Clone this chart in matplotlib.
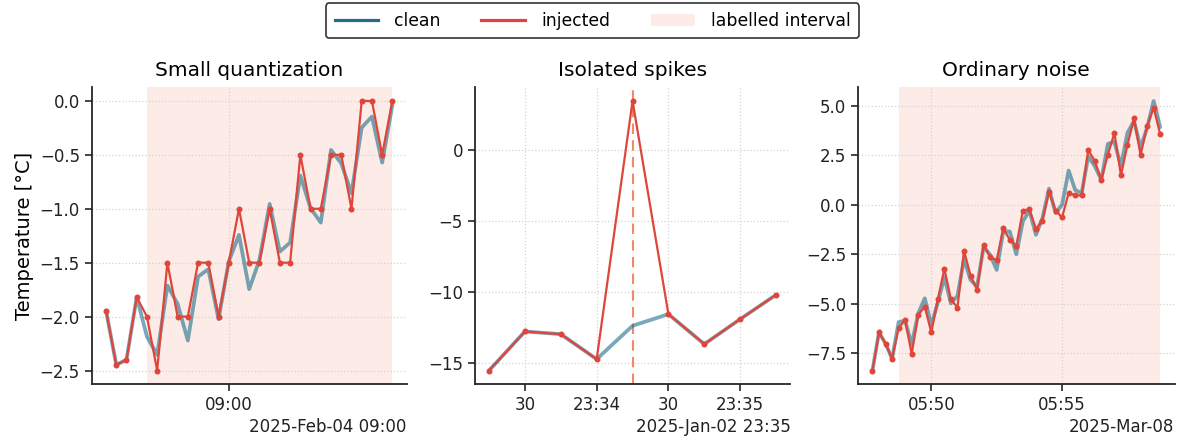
import numpy as np
import matplotlib
matplotlib.use("Agg")
import matplotlib.pyplot as plt
import matplotlib.dates as mdates
from matplotlib.ticker import MultipleLocator
from matplotlib.lines import Line2D
from matplotlib.patches import Patch

# ---------------- data ----------------
titles = ["Small quantization", "Isolated spikes", "Ordinary noise"]

left_start, left_step = "2025-02-04T08:48:00", 60          # seconds
left_clean = [-1.944, -2.447, -2.40, -1.82, -2.185, -2.355, -1.712, -1.882,
              -2.222, -1.629, -1.561, -2.024, -1.49, -1.242, -1.746, -1.474,
              -0.955, -1.397, -1.313, -0.692, -0.995, -1.128, -0.454, -0.578,
              -0.856, -0.247, -0.145, -0.572, -0.037]
left_injected = [-1.944, -2.447, -2.40, -1.82, -2.0, -2.5, -1.5, -2.0,
                 -2.0, -1.5, -1.5, -2.0, -1.5, -1.0, -1.5, -1.5,
                 -1.0, -1.5, -1.5, -0.5, -1.0, -1.0, -0.5, -0.5,
                 -1.0, 0.0, 0.0, -0.5, 0.0]
left_interval = (4, 28)
left_ytick_step = 0.5

mid_start, mid_step = "2025-01-02T23:33:15", 15
mid_clean = [-15.52, -12.77, -12.96, -14.72, -12.37, -11.55, -13.66, -11.90, -10.19]
mid_injected = [-15.52, -12.77, -12.96, -14.72, 3.47, -11.55, -13.66, -11.90, -10.19]
mid_spike = 4
mid_ytick_step = 5

right_start, right_step = "2025-03-08T05:47:45", 15
right_clean = [-8.36, -6.44, -7.0, -7.77, -5.92, -5.85, -7.05, -5.48, -4.72,
               -6.07, -4.92, -3.66, -4.98, -4.6, -2.75, -3.79, -4.13, -2.11,
               -2.53, -3.29, -1.35, -1.35, -2.50, -0.84, -0.30, -1.52, -0.67,
               0.81, -0.42, 0.0, 1.72, 0.74, 0.59, 2.45, 1.94, 1.26, 3.07,
               3.17, 1.94, 3.63, 4.22, 2.87, 3.88, 5.23, 3.91]
right_injected = [-8.36, -6.44, -7.0, -7.77, -6.23, -5.81, -7.53, -5.56, -5.14,
                  -6.44, -4.77, -3.23, -4.77, -5.19, -2.32, -3.57, -4.30, -2.03,
                  -2.65, -2.79, -1.20, -1.77, -2.08, -0.30, -0.23, -1.22, -0.80,
                  0.65, -0.30, -0.64, 0.59, 0.47, 0.47, 2.76, 2.20, 1.26, 2.53,
                  3.61, 1.48, 3.02, 4.35, 2.50, 3.96, 4.89, 3.55]
right_interval = (4, 44)
right_ytick_step = 2.5

legend_labels = ["clean", "injected", "labelled interval"]
ylabel = "Temperature [°C]"

# ---------------- style ----------------
plt.rcParams['font.family'] = ['DejaVu Sans']
C_CLEAN = "#1f6f8b"
C_INJ = "#e0453a"
C_SPAN = "#e8603c"
C_VLINE = "#f08a6a"
SPINE = "#262626"

def times(start, step, n):
    return np.datetime64(start) + np.arange(n) * np.timedelta64(step, "s")

fig = plt.figure(figsize=(11.85, 4.41), dpi=100)
bottom, height = 0.1293, 0.6723
positions = [(0.0774, bottom, 0.2658, height),
             (0.4006, bottom, 0.2664, height),
             (0.7241, bottom, 0.2671, height)]
axes = [fig.add_axes(p) for p in positions]

panels = [
    (left_start, left_step, left_clean, left_injected, left_interval, None,
     mdates.HourLocator(), left_ytick_step),
    (mid_start, mid_step, mid_clean, mid_injected, None, mid_spike,
     mdates.SecondLocator(bysecond=[0, 30]), mid_ytick_step),
    (right_start, right_step, right_clean, right_injected, right_interval, None,
     mdates.MinuteLocator(byminute=range(0, 60, 5)), right_ytick_step),
]

for ax, title, (start, step, clean, inj, interval, spike, loc, ystep) in zip(axes, titles, panels):
    t = times(start, step, len(clean))
    if interval is not None:
        ax.axvspan(t[interval[0]], t[interval[1]], color=C_SPAN, alpha=0.12,
                   lw=0, zorder=0)
    if spike is not None:
        ax.axvline(t[spike], color=C_VLINE, ls=(0, (5, 3)), lw=1.5, zorder=1)
    ax.plot(t, clean, color=C_CLEAN, alpha=0.6, lw=2.7, zorder=2,
            solid_capstyle="round")
    ax.plot(t, inj, color=C_INJ, lw=1.6, marker="o", ms=3.3, zorder=3)
    ax.xaxis.set_major_locator(loc)
    ax.xaxis.set_major_formatter(mdates.ConciseDateFormatter(loc))
    ax.yaxis.set_major_locator(MultipleLocator(ystep))
    ax.set_title(title, fontsize=14.5, pad=8)
    ax.grid(True, ls=":", color="#d4d4d4", lw=0.9)
    ax.set_axisbelow(True)
    for s in ("top", "right"):
        ax.spines[s].set_visible(False)
    for s in ("left", "bottom"):
        ax.spines[s].set_color(SPINE)
        ax.spines[s].set_linewidth(1.3)
    ax.tick_params(axis="both", labelsize=12, length=5, width=1.2,
                   color=SPINE, labelcolor="#222222", direction="out")
    ax.xaxis.get_offset_text().set_fontsize(12)

axes[0].set_ylabel(ylabel, fontsize=14)

handles = [Line2D([], [], color=C_CLEAN, lw=2.3),
           Line2D([], [], color=C_INJ, lw=2.3),
           Patch(facecolor=C_SPAN, alpha=0.12, edgecolor="none")]
leg = fig.legend(handles, legend_labels, loc="upper center",
                 bbox_to_anchor=(0.5, 0.993), ncol=3, fontsize=12.4,
                 frameon=True, fancybox=True, handlelength=2.55,
                 handletextpad=0.93, columnspacing=2.35, borderpad=0.5,
                 borderaxespad=0)
leg.get_frame().set_edgecolor("#333333")
leg.get_frame().set_linewidth(1.2)
leg.get_frame().set_alpha(1)

fig.savefig("out.png", dpi=100)
